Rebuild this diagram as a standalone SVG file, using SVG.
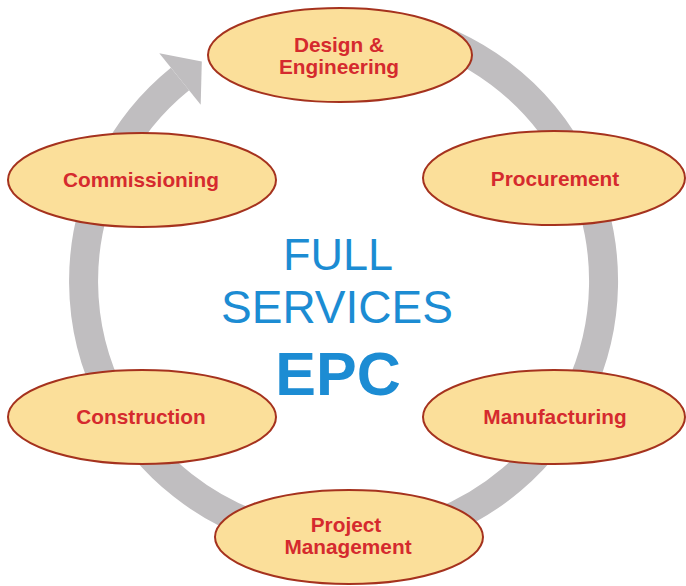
<svg xmlns="http://www.w3.org/2000/svg" width="686" height="586" viewBox="0 0 686 586">
<defs>
<style>
.ring{fill:none;stroke:#c0bec0;stroke-width:29;}
.head{fill:#c0bec0;}
.node ellipse{fill:#fbdf9a;stroke:#a5321e;stroke-width:2;}
.lbl{font-family:"Liberation Sans",Arial,sans-serif;font-weight:bold;font-size:20.8px;fill:#d52a2e;text-anchor:middle;}
.ctr{font-family:"Liberation Sans",Arial,sans-serif;fill:#1c8cd3;text-anchor:middle;}
</style>
</defs>
<rect width="686" height="586" fill="#ffffff"/>
<g id="connectors">
<path class="ring" d="M400,27.3 A260,260 0 1 1 180,79"/>
<polygon class="head" points="159.3,53.3 201.8,61.4 200.7,104.7"/>
</g>
<g id="center-title">
<text class="ctr" x="338" y="270" font-size="45">FULL</text>
<text class="ctr" x="337" y="323" font-size="46">SERVICES</text>
<text class="ctr" x="338" y="395" font-size="61" font-weight="bold">EPC</text>
</g>
<g id="node-design" class="node">
<ellipse cx="340" cy="55" rx="132" ry="47"/>
<text class="lbl" x="339" y="52">Design &amp;</text>
<text class="lbl" x="339" y="74">Engineering</text>
</g>
<g id="node-procurement" class="node">
<ellipse cx="554" cy="178" rx="131" ry="47"/>
<text class="lbl" x="555" y="186">Procurement</text>
</g>
<g id="node-manufacturing" class="node">
<ellipse cx="554" cy="417" rx="131" ry="47"/>
<text class="lbl" x="555" y="424">Manufacturing</text>
</g>
<g id="node-project-management" class="node">
<ellipse cx="349" cy="537" rx="134" ry="47"/>
<text class="lbl" x="346" y="532">Project</text>
<text class="lbl" x="348" y="554">Management</text>
</g>
<g id="node-construction" class="node">
<ellipse cx="142" cy="417" rx="134" ry="47"/>
<text class="lbl" x="141" y="424">Construction</text>
</g>
<g id="node-commissioning" class="node">
<ellipse cx="142" cy="180" rx="134" ry="47"/>
<text class="lbl" x="141" y="187">Commissioning</text>
</g>
</svg>
